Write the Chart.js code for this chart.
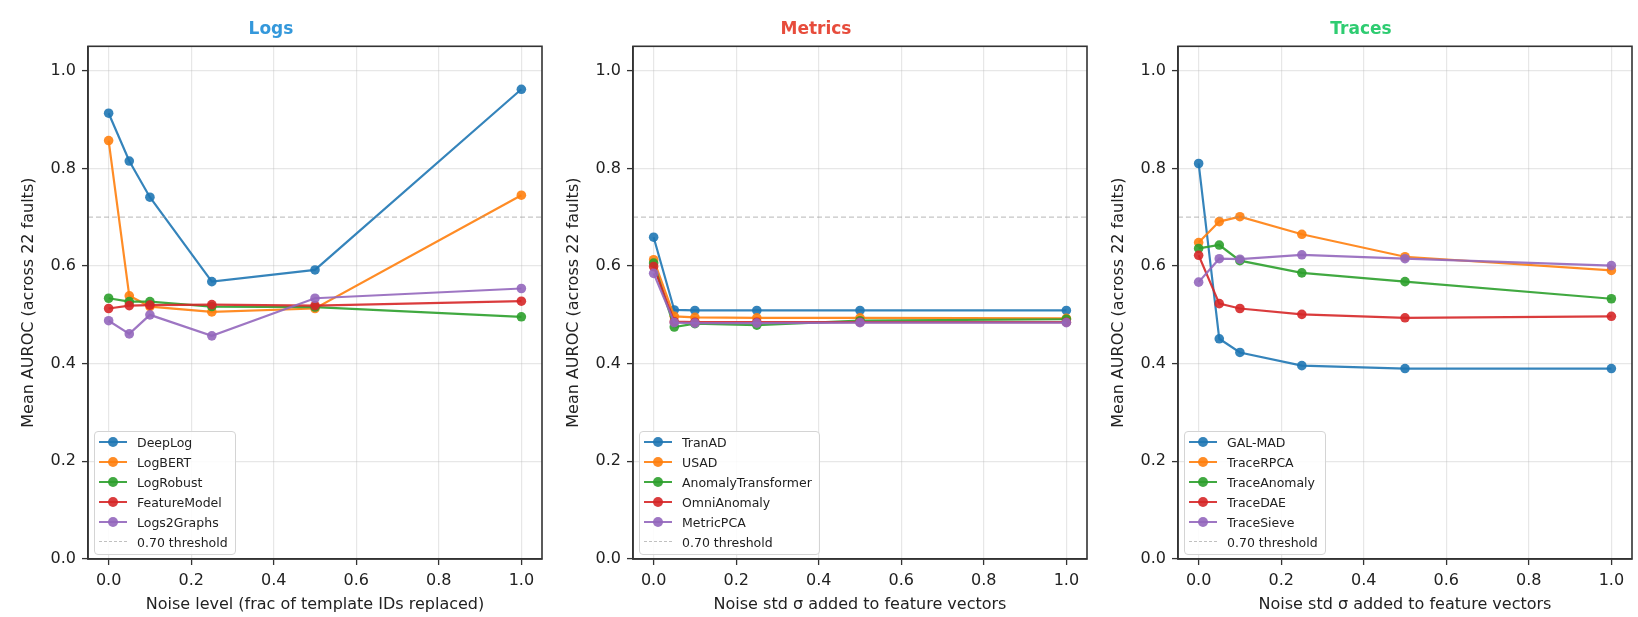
<!DOCTYPE html>
<html>
<head>
<meta charset="utf-8">
<script src="https://cdn.jsdelivr.net/npm/chart.js@4.4.1/dist/chart.umd.min.js"></script>
<style>
  body { margin: 0; background: #fff; width: 1638px; height: 617px; overflow: hidden; position: relative; font-family: 'DejaVu Sans', sans-serif; }
  canvas { position: absolute; top: 0; }
  .legend { position: absolute; top: 431px; background: rgba(255,255,255,0.85); border: 1px solid #d4d4d4; border-radius: 4px; padding: 0 7px 2px 0; font-size: 12.5px; color: #222; }
  .row { display: flex; align-items: center; height: 20px; white-space: nowrap; }
  .sym { position: relative; width: 28px; height: 20px; margin-left: 4px; margin-right: 10px; flex: none; }
  .sym .ln { position: absolute; left: 0; right: 0; top: 9px; height: 2px; }
  .sym .dot { position: absolute; left: 9px; top: 5px; width: 10px; height: 10px; border-radius: 50%; }
  .sym .dash { position: absolute; left: 0; right: 0; top: 9px; border-top: 1.3px dashed rgba(150,150,150,0.6); }
</style>
</head>
<body>
<canvas id="logs" width="630" height="617"></canvas>
<canvas id="metrics" width="630" height="617"></canvas>
<canvas id="traces" width="630" height="617"></canvas>
<script>
'use strict';

// x positions shared by every panel
const noiseLevels = [0, 0.05, 0.1, 0.25, 0.5, 1.0];
const xTicks = [0, 0.2, 0.4, 0.6, 0.8, 1.0];
const yTicks = [0, 0.2, 0.4, 0.6, 0.8, 1.0];
const threshold = 0.70;
const thresholdLabel = '0.70 threshold';
const palette = ['#1f77b4', '#ff7f0e', '#2ca02c', '#d62728', '#9467bd'];

// Logs
const logModels = ['DeepLog', 'LogBERT', 'LogRobust', 'FeatureModel', 'Logs2Graphs'];
const deepLog = [0.913, 0.815, 0.741, 0.568, 0.592, 0.962];
const logBert = [0.857, 0.539, 0.517, 0.506, 0.513, 0.745];
const logRobust = [0.534, 0.527, 0.527, 0.517, 0.516, 0.496];
const featureModel = [0.513, 0.519, 0.520, 0.521, 0.519, 0.528];
const logs2Graphs = [0.488, 0.461, 0.500, 0.457, 0.534, 0.554];

// Metrics
const metricModels = ['TranAD', 'USAD', 'AnomalyTransformer', 'OmniAnomaly', 'MetricPCA'];
const tranAD = [0.659, 0.510, 0.509, 0.509, 0.509, 0.509];
const usad = [0.613, 0.497, 0.495, 0.494, 0.494, 0.493];
const anomalyTransformer = [0.606, 0.475, 0.482, 0.479, 0.488, 0.491];
const omniAnomaly = [0.599, 0.486, 0.485, 0.485, 0.485, 0.485];
const metricPCA = [0.585, 0.484, 0.483, 0.483, 0.484, 0.484];

// Traces
const traceModels = ['GAL-MAD', 'TraceRPCA', 'TraceAnomaly', 'TraceDAE', 'TraceSieve'];
const galMad = [0.810, 0.451, 0.423, 0.396, 0.390, 0.390];
const traceRPCA = [0.648, 0.691, 0.701, 0.665, 0.619, 0.591];
const traceAnomaly = [0.636, 0.643, 0.611, 0.586, 0.568, 0.533];
const traceDAE = [0.622, 0.523, 0.513, 0.501, 0.494, 0.497];
const traceSieve = [0.567, 0.615, 0.614, 0.623, 0.615, 0.601];

const panels = [
  { id: 'logs', title: 'Logs', titleColor: '#3498db', plotLeft: 88,
    xLabel: 'Noise level (frac of template IDs replaced)',
    names: logModels, series: [deepLog, logBert, logRobust, featureModel, logs2Graphs] },
  { id: 'metrics', title: 'Metrics', titleColor: '#e74c3c', plotLeft: 633,
    xLabel: 'Noise std \u03c3 added to feature vectors',
    names: metricModels, series: [tranAD, usad, anomalyTransformer, omniAnomaly, metricPCA] },
  { id: 'traces', title: 'Traces', titleColor: '#2ecc71', plotLeft: 1178,
    xLabel: 'Noise std \u03c3 added to feature vectors',
    names: traceModels, series: [galMad, traceRPCA, traceAnomaly, traceDAE, traceSieve] },
];

const FONT = 'DejaVu Sans';
const TEXT = '#222';
const AXIS_W = 88;     // room for y ticks + y title

// top and right spines, like a matplotlib frame
const framePlugin = {
  id: 'frame',
  afterDraw(chart) {
    const { ctx, chartArea: a } = chart;
    ctx.save();
    ctx.strokeStyle = '#333';
    ctx.lineWidth = 1.6;
    ctx.strokeRect(a.left, a.top, a.right - a.left, a.bottom - a.top);
    ctx.restore();
  },
};

function withAlpha(hex, a) {
  const n = parseInt(hex.slice(1), 16);
  return `rgba(${n >> 16},${(n >> 8) & 255},${n & 255},${a})`;
}

function makePanel(p) {
  const canvas = document.getElementById(p.id);
  canvas.style.left = (p.plotLeft - AXIS_W) + 'px';

  const datasets = p.series.map((vals, i) => ({
    label: p.names[i],
    data: vals.map((v, j) => ({ x: noiseLevels[j], y: v })),
    borderColor: withAlpha(palette[i], 0.9),
    backgroundColor: withAlpha(palette[i], 0.9),
    pointBackgroundColor: withAlpha(palette[i], 0.9),
    borderWidth: 2.2,
    pointRadius: 4.8,
    pointBorderWidth: 0,
    tension: 0,
    order: p.series.length - i + 1,
  }));
  datasets.push({
    label: thresholdLabel,
    data: [{ x: -0.05, y: threshold }, { x: 1.05, y: threshold }],
    borderColor: 'rgba(150,150,150,0.55)',
    borderWidth: 1.3,
    borderDash: [5, 3],
    pointRadius: 0,
    order: 0,
  });

  new Chart(canvas, {
    type: 'line',
    data: { datasets },
    options: {
      responsive: false,
      animation: false,
      layout: { padding: { left: 0, right: AXIS_W, top: 0, bottom: 0 } },
      scales: {
        x: {
          type: 'linear',
          min: -0.05,
          max: 1.05,
          afterBuildTicks: (scale) => { scale.ticks = xTicks.map((v) => ({ value: v })); },
          afterFit: (scale) => { scale.height = 58; },
          ticks: {
            callback: (v) => v.toFixed(1),
            font: { family: FONT, size: 16 },
            color: TEXT,
            padding: 6,
            maxRotation: 0,
          },
          grid: { color: 'rgba(176,176,176,0.3)', lineWidth: 1.2, tickColor: '#333', tickLength: 6, tickWidth: 1.3 },
          border: { color: '#333', width: 1.6 },
          title: {
            display: true,
            text: p.xLabel,
            font: { family: FONT, size: 16 },
            color: TEXT,
            padding: { top: 0, bottom: 2.4 },
          },
        },
        y: {
          min: 0,
          max: 1.05,
          afterBuildTicks: (scale) => { scale.ticks = yTicks.map((v) => ({ value: v })); },
          afterFit: (scale) => { scale.width = AXIS_W; },
          ticks: {
            callback: (v) => v.toFixed(1),
            font: { family: FONT, size: 16 },
            color: TEXT,
            padding: 6,
          },
          grid: { color: 'rgba(176,176,176,0.3)', lineWidth: 1.2, tickColor: '#333', tickLength: 6, tickWidth: 1.3 },
          border: { color: '#333', width: 1.6 },
          title: {
            display: true,
            text: 'Mean AUROC (across 22 faults)',
            font: { family: FONT, size: 16 },
            color: TEXT,
            padding: { top: 19.4, bottom: 0 },
          },
        },
      },
      plugins: {
        legend: { display: false },
        tooltip: { enabled: false },
        title: {
          display: true,
          text: p.title,
          color: p.titleColor,
          font: { family: FONT, size: 17, weight: 'bold' },
          padding: { top: 19.8, bottom: 6.1 },
        },
      },
    },
    plugins: [framePlugin],
  });

  // legend in the lower-left corner of the plot
  const box = document.createElement('div');
  box.className = 'legend';
  box.style.left = (p.plotLeft + 6) + 'px';
  p.names.forEach((name, i) => {
    const row = document.createElement('div');
    row.className = 'row';
    const col = withAlpha(palette[i], 0.9);
    row.innerHTML = `<span class="sym"><span class="ln" style="background:${col}"></span>` +
      `<span class="dot" style="background:${col}"></span></span><span>${name}</span>`;
    box.appendChild(row);
  });
  const row = document.createElement('div');
  row.className = 'row';
  row.innerHTML = `<span class="sym"><span class="dash"></span></span><span>${thresholdLabel}</span>`;
  box.appendChild(row);
  document.body.appendChild(box);
}

panels.forEach(makePanel);
</script>
</body>
</html>
